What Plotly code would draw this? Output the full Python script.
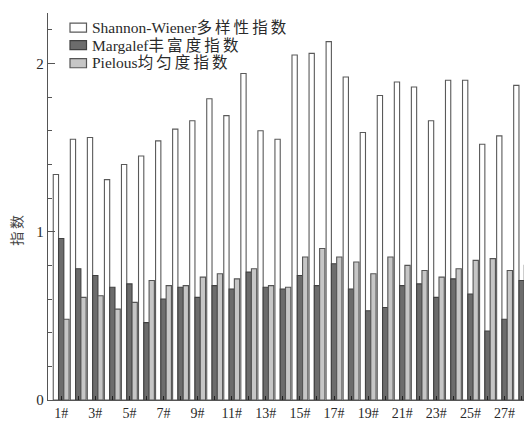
import plotly.graph_objects as go

# Sampling sites and the three community indices
sites = [f"{i}#" for i in range(1, 29)]
shannon = [1.34, 1.55, 1.56, 1.31, 1.40, 1.45, 1.54, 1.61, 1.66, 1.79,
           1.69, 1.94, 1.60, 1.55, 2.05, 2.06, 2.13, 1.92, 1.59, 1.81,
           1.89, 1.86, 1.66, 1.90, 1.90, 1.52, 1.57, 1.87]
margalef = [0.96, 0.78, 0.74, 0.67, 0.69, 0.46, 0.60, 0.67, 0.61, 0.68,
            0.66, 0.76, 0.67, 0.66, 0.74, 0.68, 0.81, 0.66, 0.53, 0.55,
            0.68, 0.69, 0.61, 0.72, 0.63, 0.41, 0.48, 0.71]
pielou = [0.48, 0.61, 0.62, 0.54, 0.58, 0.71, 0.68, 0.68, 0.73, 0.75,
          0.72, 0.78, 0.68, 0.67, 0.85, 0.90, 0.85, 0.82, 0.75, 0.85,
          0.80, 0.77, 0.73, 0.78, 0.83, 0.84, 0.77, 0.80]

series_names = ["Shannon-Wiener多样性指数", "Margalef丰富度指数", "Pielous均匀度指数"]
y_title = "指数"
y_ticks = [0, 1, 2]

W, H = 524, 421
ML, MR, MT, MB = 48, 0, 13, 17
PW, PH = W - ML - MR, H - MT - MB

FONT = "Liberation Serif, Times New Roman, Noto Sans CJK SC, serif"
INK = "#2a2a2a"
EDGE = "#555555"

fills = ["#ffffff", "#6c6c6c", "#c6c6c6"]
outlines = ["#5a5a5a", "#404040", "#555555"]

x_pos = list(range(1, len(sites) + 1))


def px_x(px):
    return (px - ML) / PW


def px_y(py):
    return (H - MB - py) / PH


def spaced(text):
    # widen the CJK glyph run slightly with thin spaces
    out = ""
    for i, ch in enumerate(text):
        out += ch
        if i + 1 < len(text) and ord(ch) > 0x2E80 and ord(text[i + 1]) > 0x2E80:
            out += "\u2009"
    return out


fig = go.Figure()
for name, vals, fc, lc in zip(series_names, [shannon, margalef, pielou], fills, outlines):
    fig.add_trace(go.Bar(
        x=x_pos, y=vals, name=name, showlegend=False,
        marker=dict(color=fc, line=dict(color=lc, width=1.1)),
    ))

# hand-drawn legend box entries
legend_rows = [(23.3, 32.3, 28.0), (41.0, 50.0, 45.7), (59.0, 68.3, 63.5)]
shapes = []
annotations = []
for (y0, y1, yc), name, fc, lc in zip(legend_rows, series_names, fills, outlines):
    shapes.append(dict(
        type="rect", xref="paper", yref="paper",
        x0=px_x(70), x1=px_x(86.5), y0=px_y(y1), y1=px_y(y0),
        fillcolor=fc, line=dict(color=lc, width=1.2),
    ))
    annotations.append(dict(
        text=spaced(name), xref="paper", yref="paper",
        x=px_x(90), y=px_y(yc), xanchor="left", yanchor="middle",
        showarrow=False, font=dict(family=FONT, size=15.5, color=INK),
    ))

annotations.append(dict(
    text=spaced(y_title), xref="paper", yref="paper",
    x=px_x(18), y=px_y(233), xanchor="center", yanchor="middle",
    textangle=-90, showarrow=False,
    font=dict(family=FONT, size=14, color="#444444"),
))

fig.update_layout(
    width=W, height=H,
    margin=dict(l=ML, r=MR, t=MT, b=MB, pad=0),
    paper_bgcolor="white", plot_bgcolor="white",
    barmode="group", bargap=0.07, bargroupgap=0,
    shapes=shapes, annotations=annotations,
    font=dict(family=FONT, color=INK),
)

fig.update_xaxes(
    range=[0.227, 28.14],
    tickmode="array", tickvals=x_pos,
    ticktext=[s if i % 2 == 0 else "" for i, s in enumerate(sites)],
    ticks="inside", ticklen=4, tickcolor="#222222", tickwidth=1.2,
    showline=True, linecolor=EDGE, linewidth=1.3,
    showgrid=False, zeroline=False,
    tickfont=dict(family=FONT, size=14, color=INK),
)

fig.update_yaxes(
    range=[0, 2.3],
    tickmode="array", tickvals=y_ticks,
    ticks="inside", ticklen=7, tickcolor=EDGE, tickwidth=1.2,
    minor=dict(dtick=0.2, tick0=0, ticks="inside", ticklen=4,
               tickcolor=EDGE, tickwidth=1.1, showgrid=False),
    showline=True, linecolor=EDGE, linewidth=1.3,
    showgrid=False, zeroline=False,
    tickfont=dict(family=FONT, size=15, color=INK),
)

fig.write_html("out.html")
